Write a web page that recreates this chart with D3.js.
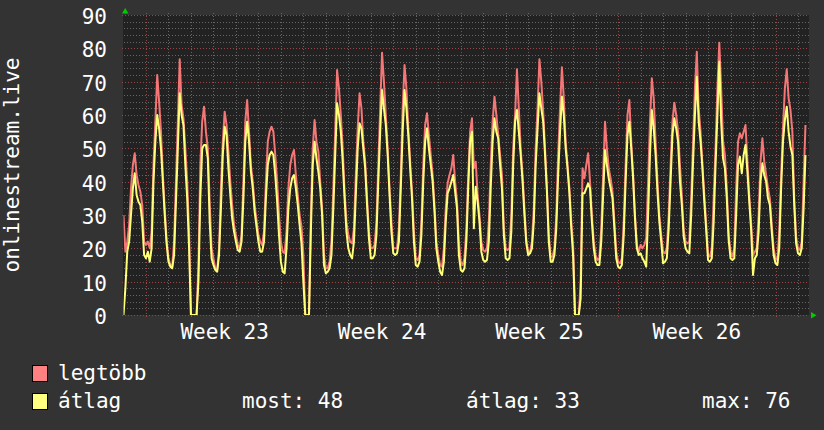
<!DOCTYPE html>
<html>
<head>
<meta charset="utf-8">
<script src="https://cdn.jsdelivr.net/npm/d3@7"></script>
<style>
  body { margin: 0; background: #333333; }
  text { font-family: "DejaVu Sans Mono", monospace; font-size: 21px; fill: #ffffff; }
</style>
</head>
<body>
<svg id="chart" width="824" height="430"></svg>
<script>
// one sample every 2 hours, 12 per day, first day starts Sun 2020-05-31
var startDate = Date.UTC(2020, 4, 31);
var hourStep = 2;
var daysShown = 30.49;

// "legtöbb" (max) series, one row per day
var legtobbValues = [
  30, 19, 22, 27, 38, 45, 48.5, 42, 39, 37, 33, 22,
  21, 22, 20, 25, 45, 58, 72, 64, 55, 42, 32, 22.5,
  17, 15, 14.5, 22, 40, 58, 76.7, 63, 59, 50, 40, 25,
  0, 0, 0, 0, 15, 45, 58, 62.5, 55, 50, 34, 20,
  17, 14, 13.5, 20, 38, 52, 61, 57, 49, 40, 33, 27,
  24, 21, 20, 24, 40, 58, 64.5, 55, 45, 40, 33, 28.5,
  24, 22, 21, 25, 40, 52, 55, 56.5, 55, 48, 40, 30,
  22, 19, 18.5, 25, 38, 45, 48, 49.5, 42, 36, 30, 26.5,
  18, 0, 0, 0, 30, 50, 58.5, 52, 49, 40, 32, 18,
  14, 14, 16, 22, 38, 55, 73.5, 68, 60, 50, 37, 28,
  24, 22, 21.5, 26, 42, 56, 66.5, 62, 52, 46, 35, 25,
  20, 20, 21, 28, 45, 62, 78.7, 70, 60, 50, 38, 28,
  20, 20, 20, 26, 42, 62, 75, 68, 56, 46, 37, 25,
  17, 16.5, 18, 28, 45, 57, 60.5, 54, 48, 42, 33, 22,
  18, 15, 14.5, 20, 32, 39.5, 42, 44, 48, 40, 34, 22,
  16, 15, 17, 26, 42, 55, 59, 44, 46, 36, 30, 22,
  19.5, 19, 20, 28, 45, 58, 65.5, 60, 54, 48, 42, 26,
  20, 19.5, 20, 30, 50, 60, 73.7, 62, 50, 42, 32, 22.5,
  19, 19, 22, 32, 50, 62, 76.7, 70, 61, 50, 38, 24,
  17.5, 17.5, 20, 30, 48, 62, 74.3, 65, 52, 45, 38, 28,
  20.5, 0, 0, 0, 10, 44, 41, 45, 48.5, 40, 30, 22,
  18, 16.5, 17, 26, 42, 58, 50, 44, 41, 37, 28, 19,
  16, 15.5, 17, 28, 45, 60, 64.5, 52, 42, 30, 21, 19,
  21, 20, 21, 23, 40, 58, 71, 65, 52, 40, 30, 24,
  19, 18.5, 20, 30, 45, 58, 63.7, 60, 55, 45, 36, 25.5,
  22, 21.5, 22, 35, 52, 68, 79, 62, 55, 45, 36, 27.5,
  18, 17.5, 20, 35, 50, 68, 81.7, 68, 52, 48, 38, 24,
  19, 17.5, 20, 38, 52, 54.5, 53, 55, 57, 46, 36, 27.5,
  18, 19, 20, 30, 46, 53, 46, 42, 38, 35, 27, 20,
  17, 16.5, 25, 42, 56, 68, 73.7, 65, 61.5, 55, 35, 23.5,
  20, 19.5, 22, 40, 57
];

// "átlag" (average) series, same time steps
var atlagValues = [
  0, 8, 19, 22, 30, 38, 42.5, 36, 34, 33, 28, 18,
  17, 19, 16, 20, 40, 52, 60, 56, 50, 40, 30, 21.5,
  16, 14.5, 14, 18, 34, 50, 66.5, 60, 57, 45, 35, 20,
  0, 0, 0, 0, 10, 35, 50, 51, 51, 47, 28, 17,
  15, 13.5, 13, 18, 32, 48, 56.5, 54, 44, 36, 29, 25,
  22, 19.5, 19, 22, 35, 52, 58, 52, 43, 38, 31, 26.5,
  22, 19, 19, 22, 35, 45, 48, 49, 48, 42, 34, 24,
  16, 13, 12.5, 20, 32, 38, 41, 42, 38, 33, 27, 21.5,
  10, 0, 0, 0, 25, 45, 52, 47, 43, 38, 30, 15,
  12.5, 13, 14, 18, 32, 48, 63.5, 60, 55, 46, 35, 25,
  20, 18, 17, 22, 36, 50, 57.5, 56, 50, 44, 33, 23,
  17, 17, 18, 24, 40, 55, 67.5, 62, 57, 48, 36, 25,
  18.5, 18, 18.5, 22, 38, 55, 67.5, 62, 54, 44, 35, 22,
  15, 14.5, 16, 24, 40, 52, 56, 50, 45, 40, 31, 20,
  16, 13, 12, 16, 28, 36.5, 38, 40, 42, 37, 32, 18,
  13.5, 13, 14, 22, 38, 52, 55, 26, 38.5, 34, 28, 19,
  16.5, 16, 16.5, 22, 38, 52, 59, 55, 53, 45, 38, 24,
  17, 16.5, 17, 25, 45, 58, 61.5, 55, 48, 40, 30, 21.5,
  18, 18.5, 20, 28, 45, 56, 66.5, 62, 58, 48, 37, 22,
  16, 16, 18, 26, 42, 55, 65.5, 60, 50, 44, 36.5, 26,
  17.5, 0, 0, 0, 5, 36.5, 36.5, 38, 39.5, 38, 28, 20,
  16, 15, 15, 22, 36, 49.5, 45, 41, 38, 35, 26, 17,
  14.5, 14, 15, 24, 40, 54, 58, 50, 41, 29, 20, 18,
  18.5, 17, 16, 14.5, 30, 48, 61.5, 56, 48, 37, 28, 22,
  15.5, 16, 17, 26, 40, 54, 59, 56, 52, 40, 33, 23.5,
  20, 19, 18.5, 30, 46, 60, 71.5, 58, 52, 44, 34, 25.5,
  16.5, 16, 17, 28, 45, 60, 76, 58, 47, 44, 35, 22.5,
  17, 16.5, 17, 30, 45, 47.5, 42.5, 48, 51, 43, 34, 25.5,
  12, 17, 18, 25, 40, 45.5, 42, 40, 35, 33, 25, 18,
  15.5, 15, 20, 38, 52, 58.5, 62.5, 55, 50.5, 48, 33, 21.5,
  18.5, 18, 20, 32, 48
];

var yTicks = [0, 10, 20, 30, 40, 50, 60, 70, 80, 90];
var yAxisTitle = "onlinestream.live";
var seriesNames = ["legtöbb", "átlag"];
var seriesColors = ["#ff8080", "#ffff80"];
var lineColors = ["#f47676", "#ffff78"];
var statLabels = ["most", "átlag", "max"];
var statValues = [48, 33, 76];

var svg = d3.select("#chart");

// plot box
var plotLeft = 123.5, plotRight = 809, plotTop = 15, plotBottom = 315;

var t0 = new Date(startDate);
var t1 = new Date(startDate + daysShown * 864e5);

var x = d3.scaleUtc().domain([t0, t1]).range([plotLeft, plotRight]);
var y = d3.scaleLinear().domain([0, 90]).range([plotBottom, plotTop]);

function timeAt(i) {
  return new Date(startDate + i * hourStep * 3600e3);
}

// background of the plot
svg.append("rect")
  .attr("x", plotLeft - 0.5)
  .attr("y", plotTop)
  .attr("width", plotRight - plotLeft + 0.5)
  .attr("height", plotBottom - plotTop)
  .attr("fill", "#222222");

var grid = svg.append("g").attr("shape-rendering", "crispEdges");

// horizontal grid: minor every 2, major (red) every 10
d3.range(0, 91, 2).forEach(function (v) {
  var major = v % 10 === 0;
  grid.append("line")
    .attr("x1", plotLeft - (major ? 2 : 0))
    .attr("x2", plotRight)
    .attr("y1", Math.round(y(v)) + 0.5)
    .attr("y2", Math.round(y(v)) + 0.5)
    .attr("stroke", major ? "#9a4545" : "#666666")
    .attr("stroke-dasharray", "1,2");
});

// vertical grid: every midnight, Mondays in red
var days = d3.utcDay.range(d3.utcDay.offset(t0, 1), t1);
days.forEach(function (d) {
  var monday = d.getUTCDay() === 1;
  grid.append("line")
    .attr("x1", Math.round(x(d)) + 0.5)
    .attr("x2", Math.round(x(d)) + 0.5)
    .attr("y1", plotTop - 2)
    .attr("y2", plotBottom + 2)
    .attr("stroke", monday ? "#9a4545" : "#666666")
    .attr("stroke-dasharray", "1,2");
});

// data lines
var line = d3.line()
  .x(function (d, i) { return x(timeAt(i)); })
  .y(function (d) { return y(d); });

svg.append("defs").append("clipPath").attr("id", "plotclip")
  .append("rect")
  .attr("x", plotLeft).attr("y", plotTop - 1)
  .attr("width", plotRight - plotLeft).attr("height", plotBottom - plotTop + 1);

var plot = svg.append("g").attr("clip-path", "url(#plotclip)");

plot.append("path")
  .datum(legtobbValues)
  .attr("d", line)
  .attr("fill", "none")
  .attr("stroke", lineColors[0])
  .attr("stroke-width", 2)
  .attr("stroke-linejoin", "round");

plot.append("path")
  .datum(atlagValues)
  .attr("d", line)
  .attr("fill", "none")
  .attr("stroke", lineColors[1])
  .attr("stroke-width", 2)
  .attr("stroke-linejoin", "round");

// y labels
svg.append("g").selectAll("text")
  .data(yTicks)
  .enter()
  .append("text")
  .attr("x", 107)
  .attr("y", function (d) { return y(d) + 9; })
  .attr("text-anchor", "end")
  .text(function (d) { return d; });

// week labels centred in each week
var mondays = d3.utcMonday.range(t0, t1);
var weekFmt = d3.utcFormat("%V");
svg.append("g").selectAll("text")
  .data(mondays.filter(function (m) {
    return x(new Date(m.getTime() + 3.5 * 864e5)) < plotRight;
  }))
  .enter()
  .append("text")
  .attr("x", function (m) { return x(new Date(m.getTime() + 3.5 * 864e5)); })
  .attr("y", 338.5)
  .attr("text-anchor", "middle")
  .attr("xml:space", "preserve")
  .text(function (m) { return "Week " + weekFmt(m); });

// vertical axis title
svg.append("text")
  .attr("transform", "translate(18.5," + (plotTop + plotBottom) / 2 + ") rotate(-90)")
  .attr("text-anchor", "middle")
  .text(yAxisTitle);

// green axis arrows
svg.append("path")
  .attr("d", "M122,13.5 L128.5,13.5 L125.2,8 Z")
  .attr("fill", "#00cc00");
svg.append("path")
  .attr("d", "M811,312 L811,318.5 L816.5,315.2 Z")
  .attr("fill", "#00cc00");

// legend
var legend = svg.append("g");
seriesNames.forEach(function (name, i) {
  legend.append("rect")
    .attr("x", 32.5)
    .attr("y", 365.5 + i * 28)
    .attr("width", 15)
    .attr("height", 16)
    .attr("fill", seriesColors[i])
    .attr("stroke", "#000000");
  legend.append("text")
    .attr("x", 58)
    .attr("y", 380 + i * 28)
    .text(name);
});

var statX = [242, 466, 702];
statLabels.forEach(function (lab, i) {
  legend.append("text")
    .attr("x", statX[i])
    .attr("y", 408)
    .attr("xml:space", "preserve")
    .text(lab + ": " + statValues[i]);
});
</script>
</body>
</html>
